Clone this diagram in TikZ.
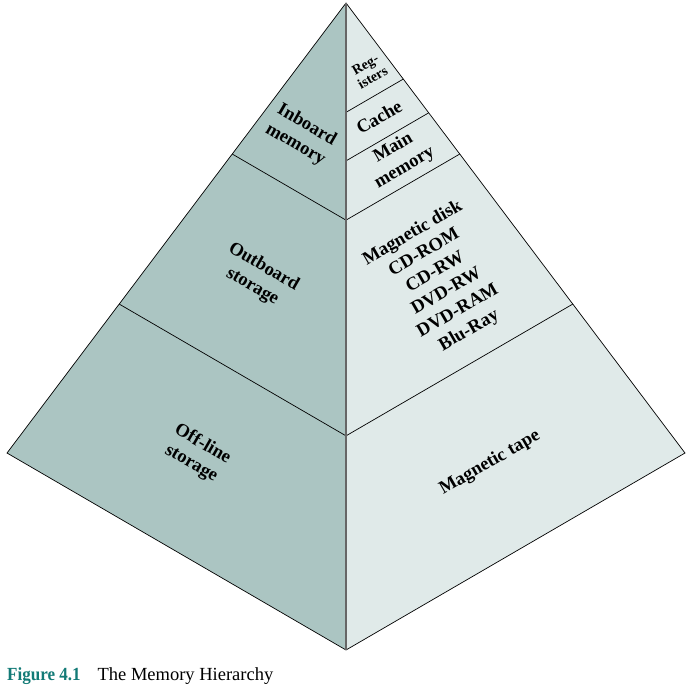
\documentclass[tikz,border=0pt]{standalone}
\usepackage{graphicx}
\usepackage{fontspec}
\setmainfont{Liberation Serif}
\usetikzlibrary{calc}
\definecolor{darkface}{RGB}{171,197,194}
\definecolor{lightface}{RGB}{224,234,233}
\definecolor{figteal}{RGB}{18,122,118}
\tikzset{
  lbl/.style={font=\bfseries\fontsize{18.5}{22.5}\selectfont, align=center, inner sep=0pt},
  lleft/.style={lbl, rotate=-30},
  lright/.style={lbl, rotate=30},
}

\begin{document}
\begin{tikzpicture}[x=1pt,y=-1pt]
            \useasboundingbox (0,0) rectangle (695,689);
            \coordinate (top) at (346,3);
            \coordinate (left) at (7,453);
            \coordinate (right) at (685,453);
            \coordinate (bottom) at (346,650);
            % the two faces
            \fill[darkface] (top) -- (left) -- (bottom) -- cycle;
            \fill[lightface] (top) -- (right) -- (bottom) -- cycle;
            % levels
            \foreach \t in {0.3356,0.669} {
                    \draw[line width=0.7pt] ($(top)!\t!(left)$) -- ($(top)!\t!(bottom)$);
                }
            \foreach \t in {0.169,0.244,0.3356,0.669} {
                    \draw[line width=0.7pt] ($(top)!\t!(right)$) -- ($(top)!\t!(bottom)$);
                }
            \draw[line width=0.7pt] (top) -- (left) -- (bottom) -- (right) -- cycle;
            \draw[black!60, line width=1.2pt] (top) -- (bottom);
            % labels
            \node[lleft] (inboard) at (301,135) {Inboard\\memory};
            \node[lleft] (outboard) at (258,277) {Outboard\\storage};
            \node[lleft] (offline) at (197,454) {Off-line\\storage};
            \node[lright, font=\bfseries\fontsize{14}{15}\selectfont] (reg) at (369,71) {Reg-\\isters};
            \node[lright] (cache) at (379,117) {Cache};
            \node[lright] (mainmem) at (399,158) {Main\\memory};
            \node[lright] (disk) at (441,282) {Magnetic disk\\CD-ROM\\CD-RW\\DVD-RW\\DVD-RAM\\Blu-Ray};
            \node[lright] (tape) at (490,463) {Magnetic tape};
            \node[anchor=base west, inner sep=0pt, font=\fontsize{18.5}{22}\selectfont] (caption) at (7,680)
                {\textcolor{figteal}{\bfseries\scalebox{0.92}[1]{Figure 4.1}}\hspace{17pt}The Memory Hierarchy};
        \end{tikzpicture}
\end{document}
